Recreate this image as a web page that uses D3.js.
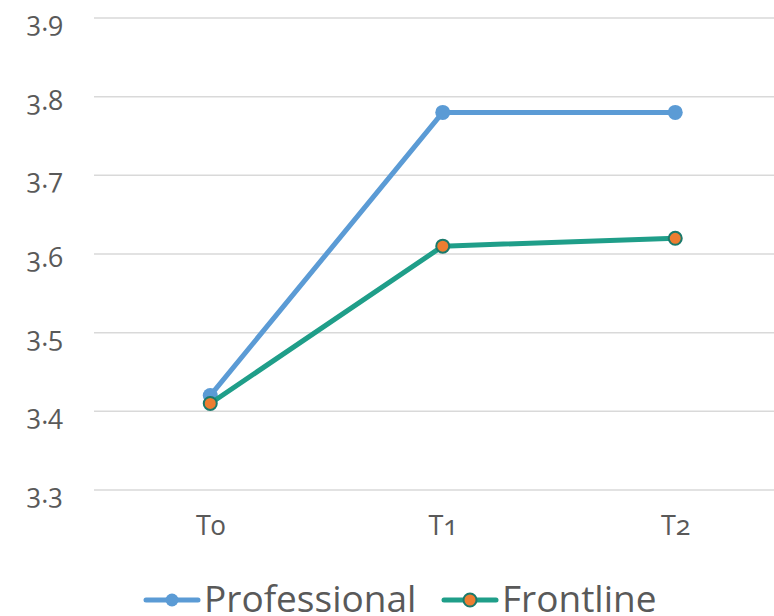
<!DOCTYPE html>
<html>
<head>
<meta charset="utf-8">
<script src="https://cdn.jsdelivr.net/npm/d3@7"></script>
<style>
  html, body { margin: 0; padding: 0; background: #fff; }
  svg { display: block; font-family: "Open Sans", sans-serif; font-variant-numeric: oldstyle-nums; }
</style>
</head>
<body>
<svg id="chart" width="774" height="616"></svg>
<script>
const categories = ["T0", "T1", "T2"];
const professional = [3.42, 3.78, 3.78];
const frontline = [3.41, 3.61, 3.62];
const yTicks = [3.3, 3.4, 3.5, 3.6, 3.7, 3.8, 3.9];
const seriesNames = ["Professional", "Frontline"];

const svg = d3.select("#chart");
const W = 774, H = 616;
const plotLeft = 94, bandW = 232.5;
const plotTop = 18, plotBottom = 490;

const x = d3.scalePoint()
  .domain(categories)
  .range([plotLeft + bandW / 2, plotLeft + bandW * 2.5]);

const y = d3.scaleLinear().domain([3.3, 3.9]).range([plotBottom, plotTop]);

// Horizontal gridlines
svg.append("g")
  .selectAll("line")
  .data(yTicks)
  .join("line")
  .attr("x1", plotLeft).attr("x2", W)
  .attr("y1", d => y(d)).attr("y2", d => y(d))
  .attr("stroke", "#d9d9d9").attr("stroke-width", 1.5);

// Y axis labels
const yAxis = d3.axisLeft(y).tickValues(yTicks).tickFormat(d3.format(".1f")).tickSize(0).tickPadding(0);
const gy = svg.append("g").attr("transform", `translate(63,4)`).call(yAxis);
gy.select(".domain").remove();
gy.selectAll("text").attr("font-size", 27).attr("fill", "#595959")
  .attr("font-family", "Open Sans, sans-serif");

// X axis labels
const xAxis = d3.axisBottom(x).tickSize(0).tickPadding(0);
const gx = svg.append("g").attr("transform", `translate(0,516)`).call(xAxis);
gx.select(".domain").remove();
gx.selectAll("text").attr("font-size", 27).attr("fill", "#595959")
  .attr("font-family", "Open Sans, sans-serif");

const line = d3.line().x((d, i) => x(categories[i])).y(d => y(d));

// Professional
svg.append("path").datum(professional)
  .attr("d", line).attr("fill", "none")
  .attr("stroke", "#5b9bd5").attr("stroke-width", 5).attr("stroke-linejoin", "round");
svg.append("g").selectAll("circle").data(professional).join("circle")
  .attr("cx", (d, i) => x(categories[i])).attr("cy", d => y(d)).attr("r", 7.5)
  .attr("fill", "#5b9bd5");

// Frontline
svg.append("path").datum(frontline)
  .attr("d", line).attr("fill", "none")
  .attr("stroke", "#1f9e89").attr("stroke-width", 5).attr("stroke-linejoin", "round");
svg.append("g").selectAll("circle").data(frontline).join("circle")
  .attr("cx", (d, i) => x(categories[i])).attr("cy", d => y(d)).attr("r", 6.5)
  .attr("fill", "#ed7d31").attr("stroke", "#1a7a6c").attr("stroke-width", 2);

// Legend
const legend = [
  { name: seriesNames[0], x: 146, color: "#5b9bd5", fill: "#5b9bd5", stroke: "none" },
  { name: seriesNames[1], x: 444, color: "#1f9e89", fill: "#ed7d31", stroke: "#1a7a6c" }
];
const lg = svg.append("g").selectAll("g").data(legend).join("g")
  .attr("transform", d => `translate(${d.x},600)`);
lg.append("line").attr("x1", 0).attr("x2", 52).attr("y1", 0).attr("y2", 0)
  .attr("stroke", d => d.color).attr("stroke-width", 5).attr("stroke-linecap", "round");
lg.append("circle").attr("cx", 26).attr("cy", 0).attr("r", 6.5)
  .attr("fill", d => d.fill).attr("stroke", d => d.stroke).attr("stroke-width", 2);
lg.append("text").attr("x", 58).attr("y", 12).text(d => d.name)
  .attr("font-size", 37).attr("fill", "#595959");
</script>
</body>
</html>
